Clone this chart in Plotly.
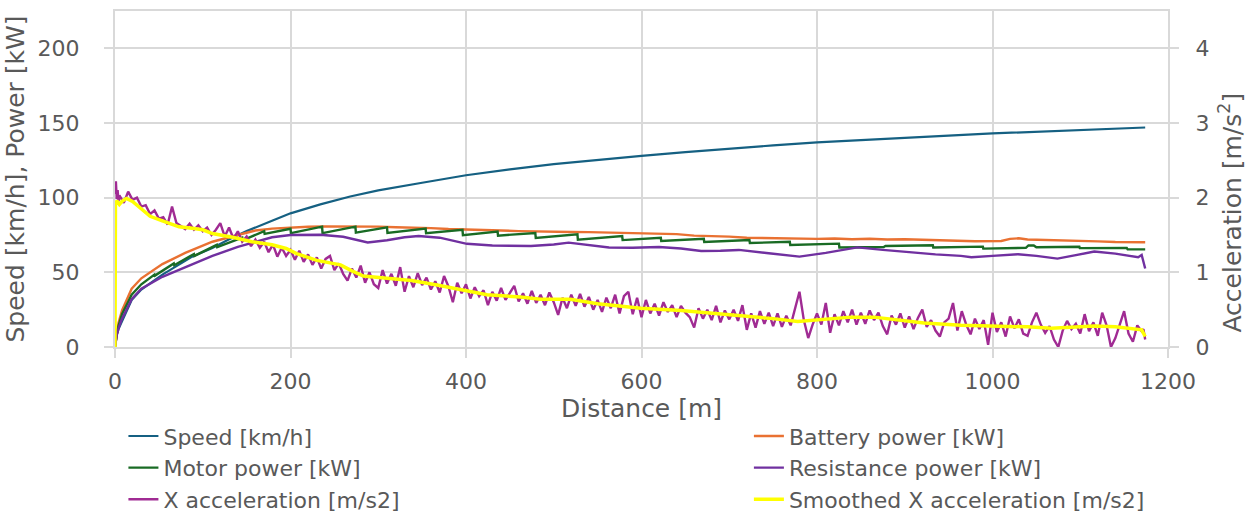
import plotly.graph_objects as go

# ---------------- data ----------------
speed_dist = [0, 2, 4, 8, 19, 30, 54, 88, 111, 129, 150, 179, 200, 234, 268, 300, 325, 350,
              400, 450, 500, 550, 600, 650, 700, 750, 800, 850, 900, 950, 1000, 1050, 1100, 1150, 1174]
speed_kmh = [0, 8, 12, 17, 31.5, 38.5, 48.5, 60.5, 66.3, 71.8, 77.6, 84.6, 89.5, 95.5, 100.8, 104.9, 107.6, 110,
             115, 119, 122.5, 125.5, 128, 130.5, 133, 135, 137, 138.7, 140.2, 141.6, 143, 144.2, 145.4, 146.5, 147]

battery_dist = [0, 2, 4, 8, 19, 30, 54, 80, 111, 140, 160, 179, 200, 220, 240, 260, 280, 300, 320, 340,
                360, 380, 400, 420, 440, 460, 480, 500, 520, 540, 560, 580, 600, 620, 640, 660, 680, 700,
                720, 740, 760, 780, 800, 820, 840, 860, 880, 900, 920, 940, 960, 980, 1000, 1010, 1020,
                1030, 1040, 1060, 1080, 1100, 1120, 1140, 1160, 1174]
battery_kw = [0, 10, 16, 24.5, 39, 46, 55.5, 63, 70.5, 75, 78, 79.3, 80.1, 80.5, 80.8, 80.9, 80.7, 80.6, 80.2, 80.0,
              79.6, 79.0, 78.5, 78.3, 78.0, 77.6, 77.3, 77.2, 77.0, 76.9, 76.6, 76.5, 76.2, 76.0, 75.6, 74.6, 74.4, 73.9,
              73.2, 73.0, 72.7, 72.8, 72.4, 72.7, 72.2, 72.5, 72.0, 72.2, 71.7, 71.4, 71.1, 70.8, 71.1, 71.0, 72.4,
              72.8, 72.0, 71.8, 71.5, 71.3, 70.7, 70.3, 70.4, 70.1]

motor_dist = [0, 2, 4, 8, 19, 30, 45, 45.5, 67, 67.5, 90, 90.5, 116, 116.5, 145, 145.5, 170, 170.5,
              200, 200.5, 236, 236.5, 274, 274.5, 310, 310.5, 354, 354.5, 396, 396.5, 436, 436.5,
              479, 479.5, 527, 527.5, 578, 578.5, 622, 622.5, 671, 671.5, 723, 723.5, 769, 769.5,
              825, 825.5, 876, 878, 932, 932.5, 989, 989.5, 1038, 1041, 1047, 1050, 1099, 1099.5,
              1153, 1154, 1174]
motor_kw = [0, 9, 14, 22, 35, 42, 48.5, 47.8, 56, 54.8, 62.3, 61, 68.4, 66.9, 73.2, 71.4, 77.6, 75.8,
            79.2, 76.3, 80.6, 76.3, 80.6, 76.6, 80.1, 76.4, 79.3, 76.2, 78.4, 74.9, 77.3, 74.6,
            76.3, 73.0, 75.4, 71.9, 74.3, 71.6, 73.2, 71.0, 72.5, 70.3, 71.6, 69.6, 70.5, 68.3,
            69.2, 66.6, 67.0, 67.6, 68.1, 66.6, 67.2, 65.9, 66.4, 68.0, 68.0, 66.8, 67.1, 66.2,
            66.3, 65.4, 65.4]

resist_dist = [0, 2, 4, 8, 19, 30, 54, 80, 111, 140, 160, 179, 200, 234, 260, 288, 310, 330, 346, 370,
               401, 430, 474, 500, 517, 540, 563, 590, 620, 645, 668, 690, 711, 745, 780, 810, 846, 875,
               903, 935, 964, 976, 1000, 1029, 1050, 1074, 1095, 1116, 1140, 1166, 1170, 1174]
resist_kw = [0, 8, 12.5, 19, 32, 39, 47, 53.5, 61, 67, 70.5, 73.5, 75, 75.2, 73.8, 70.0, 71.5, 73.5, 74.3, 73.2,
             69.1, 68.0, 67.6, 68.6, 69.9, 68.5, 66.6, 66.5, 67.0, 66.0, 64.3, 64.5, 65.0, 62.8, 60.5, 63.0, 66.7, 65.0,
             63.4, 62.0, 61.0, 60.1, 61.0, 62.1, 61.0, 59.2, 61.5, 63.9, 62.5, 60.1, 61.6, 52.6]

acc_dist = [0.5, 1, 2, 3, 4] + list(range(5, 1171, 5)) + [1172, 1174]
x_acc = [2.05, 2.22, 1.98, 2.10, 1.95,
         2.03, 1.93, 2.08, 1.97, 2.00, 1.88, 1.90, 1.78, 1.83, 1.72,
         1.74, 1.64, 1.88, 1.66, 1.62, 1.58, 1.65, 1.57, 1.63, 1.55,
         1.60, 1.50, 1.57, 1.66, 1.48, 1.60, 1.45, 1.55, 1.41, 1.48,
         1.35, 1.44, 1.33, 1.41, 1.27, 1.37, 1.21, 1.33, 1.22, 1.30,
         1.17, 1.29, 1.14, 1.24, 1.10, 1.20, 1.05, 1.18, 1.22, 1.03,
         1.12, 0.98, 0.89, 1.05, 0.93, 1.09, 0.86, 1.00, 0.84, 0.79,
         1.03, 0.85, 0.98, 0.82, 1.07, 0.74, 0.95, 0.80, 0.99, 0.83,
         0.93, 0.77, 0.88, 0.73, 0.95, 0.81, 0.60, 0.86, 0.72, 0.84,
         0.65, 0.80, 0.68, 0.76, 0.56, 0.74, 0.62, 0.79, 0.63, 0.72,
         0.82, 0.61, 0.72, 0.58, 0.75, 0.59, 0.70, 0.56, 0.73, 0.60,
         0.43, 0.66, 0.52, 0.70, 0.55, 0.71, 0.54, 0.67, 0.50, 0.63,
         0.47, 0.66, 0.52, 0.70, 0.45, 0.68, 0.74, 0.44, 0.66, 0.40,
         0.63, 0.45, 0.58, 0.42, 0.60, 0.47, 0.56, 0.40, 0.55, 0.46,
         0.40, 0.26, 0.52, 0.38, 0.50, 0.36, 0.55, 0.33, 0.49, 0.37,
         0.50, 0.35, 0.56, 0.23, 0.45, 0.26, 0.48, 0.31, 0.46, 0.28,
         0.45, 0.27, 0.42, 0.29, 0.50, 0.74, 0.36, 0.12, 0.30, 0.45,
         0.30, 0.59, 0.19, 0.44, 0.29, 0.48, 0.33, 0.50, 0.30, 0.46,
         0.31, 0.49, 0.36, 0.46, 0.28, 0.17, 0.42, 0.30, 0.45, 0.26,
         0.41, 0.24, 0.39, 0.50, 0.27, 0.36, 0.22, 0.14, 0.33, 0.38,
         0.59, 0.22, 0.48, 0.30, 0.17, 0.38, 0.24, 0.36, 0.03, 0.46,
         0.20, 0.33, 0.14, 0.41, 0.25, 0.37, 0.18, 0.15, 0.33, 0.46,
         0.30, 0.19, 0.28, 0.10, 0.00, 0.22, 0.35, 0.24, 0.31, 0.18,
         0.44, 0.21, 0.33, 0.15, 0.46, 0.29, 0.00, 0.12, 0.30, 0.48,
         0.18, 0.07, 0.29, 0.21,
         0.24, 0.10]

smooth_dist = [0, 0.5, 2, 5, 8, 13, 20, 30, 40, 54, 65, 73, 88, 100, 111, 134, 156, 179, 195, 207, 230,
               245, 257, 270, 283, 310, 338, 367, 401, 424, 462, 485, 519, 550, 575, 599, 645, 687, 725,
               750, 778, 810, 839, 865, 895, 922, 964, 1010, 1040, 1067, 1090, 1116, 1140, 1158, 1170, 1174]
smooth_acc = [0, 1.90, 1.96, 1.91, 1.95, 1.99, 1.95, 1.85, 1.75, 1.69, 1.64, 1.61, 1.59, 1.57, 1.52, 1.47, 1.41,
              1.37, 1.32, 1.25, 1.16, 1.13, 1.10, 1.02, 0.95, 0.92, 0.89, 0.83, 0.75, 0.70, 0.67, 0.64, 0.64,
              0.58, 0.55, 0.52, 0.49, 0.45, 0.41, 0.38, 0.34, 0.37, 0.40, 0.40, 0.36, 0.32, 0.29, 0.28, 0.27,
              0.25, 0.26, 0.28, 0.27, 0.24, 0.23, 0.14]

names = ["Speed [km/h]", "Battery power [kW]", "Motor power [kW]",
         "Resistance power [kW]", "X acceleration [m/s2]", "Smoothed X acceleration [m/s2]"]
colors = ["#156082", "#E97132", "#196B24", "#7030A0", "#A02B93", "#FFFF00"]
left_title = "Speed [km/h], Power [kW]"
right_title = "Acceleration [m/s<sup>2</sup>]"
x_title = "Distance [m]"

FONT = "DejaVu Sans"
TXT = "#595959"
GRID = "#D9D9D9"

fig = go.Figure()
series = [
    (speed_dist, speed_kmh, "y", "legend", 2.2),
    (battery_dist, battery_kw, "y", "legend2", 2.4),
    (motor_dist, motor_kw, "y", "legend", 2.4),
    (resist_dist, resist_kw, "y", "legend2", 2.4),
    (acc_dist, x_acc, "y2", "legend", 2.4),
    (smooth_dist, smooth_acc, "y2", "legend2", 3.5),
]
for (xs, ys, ax, lg, w), name, col in zip(series, names, colors):
    fig.add_trace(go.Scatter(x=xs, y=ys, mode="lines", name=name, yaxis=ax, legend=lg,
                             line=dict(color=col, width=w)))

fig.update_layout(
    template="none",
    width=1252, height=527, autosize=False,
    margin=dict(l=115, r=84, t=11, b=180, pad=0, autoexpand=False),
    paper_bgcolor="white", plot_bgcolor="white",
    font=dict(family=FONT, color=TXT, size=22),
    showlegend=True,
    xaxis=dict(range=[0, 1200], dtick=200, tick0=0, showgrid=True, gridcolor=GRID, gridwidth=2,
               showline=True, linecolor=GRID, linewidth=2, mirror=True,
               ticks="outside", ticklen=9, tickwidth=2, tickcolor=GRID, ticklabelstandoff=5,
               tickfont=dict(size=22, color=TXT), zeroline=False, automargin=False,
               title=dict(text=x_title, font=dict(size=25, color=TXT), standoff=1)),
    yaxis=dict(range=[0, 225], dtick=50, tick0=0, showgrid=True, gridcolor=GRID, gridwidth=2,
               showline=True, linecolor=GRID, linewidth=2,
               ticks="outside", ticklen=9, tickwidth=2, tickcolor=GRID, ticklabelstandoff=20,
               tickfont=dict(size=22, color=TXT), zeroline=False, automargin=False,
               title=dict(text=left_title, font=dict(size=25, color=TXT), standoff=6)),
    yaxis2=dict(range=[0, 4.5], dtick=1, tick0=0, overlaying="y", side="right", showgrid=False,
                showline=True, linecolor=GRID, linewidth=2,
                ticks="outside", ticklen=9, tickwidth=2, tickcolor=GRID, ticklabelstandoff=12,
                tickfont=dict(size=22, color=TXT), zeroline=False, automargin=False),
    annotations=[dict(text=right_title, textangle=-90, xref="paper", yref="paper",
                      x=1.0598, y=0.40, xanchor="center", yanchor="middle", showarrow=False,
                      font=dict(size=25, color=TXT, family=FONT))],
    legend=dict(x=0.008, xanchor="left", y=-0.203, yanchor="top", orientation="v",
                font=dict(size=22, color=TXT), bgcolor="rgba(0,0,0,0)", borderwidth=0),
    legend2=dict(x=0.602, xanchor="left", y=-0.203, yanchor="top", orientation="v",
                 font=dict(size=22, color=TXT), bgcolor="rgba(0,0,0,0)", borderwidth=0),
)

fig.write_html("out.html")
